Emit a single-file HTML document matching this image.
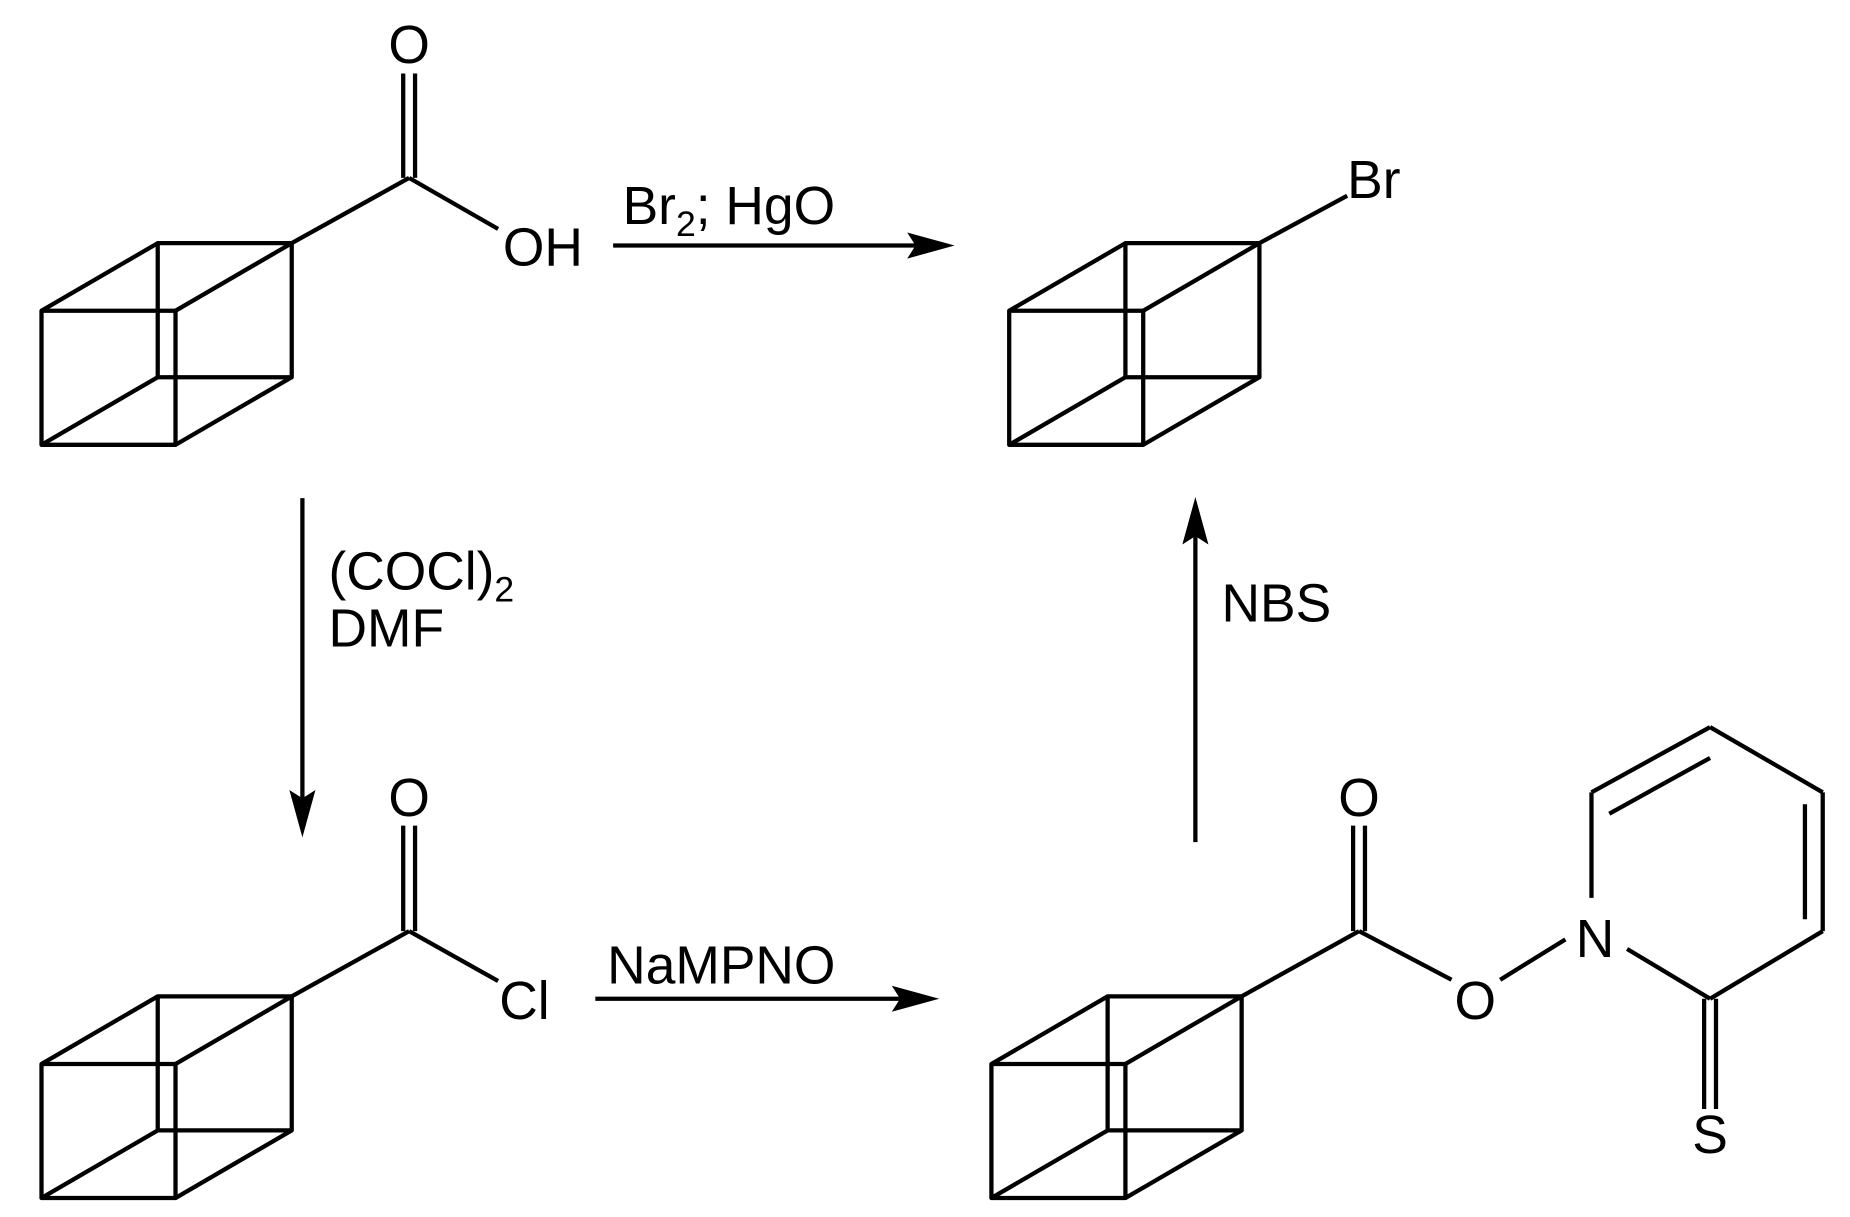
<!DOCTYPE html>
<html><head><meta charset="utf-8"><style>html,body{margin:0;padding:0;background:#fff}svg{display:block}</style></head>
<body>
<svg width="1850" height="1217" viewBox="0 0 1560 1026" preserveAspectRatio="none" xmlns="http://www.w3.org/2000/svg">
<defs>
<g id="cube" fill="none" stroke="#000" stroke-width="3.6" stroke-linejoin="round">
<rect x="0" y="57" width="113" height="113"/>
<rect x="98" y="0" width="113" height="113"/>
<line x1="0" y1="57" x2="98" y2="0"/>
<line x1="113" y1="57" x2="211" y2="0"/>
<line x1="0" y1="170" x2="98" y2="113"/>
<line x1="113" y1="170" x2="211" y2="113"/>
</g>
</defs>
<g font-family="Liberation Sans, sans-serif" font-size="45" fill="#000">
<use href="#cube" x="35" y="205"/>
<use href="#cube" x="851" y="205"/>
<use href="#cube" x="35" y="840"/>
<use href="#cube" x="836" y="840"/>
<g stroke="#000" stroke-width="3.6" fill="none">
<line x1="246" y1="205" x2="345" y2="150"/>
<line x1="340" y1="62" x2="340" y2="150"/><line x1="350" y1="62" x2="350" y2="150"/>
<line x1="345" y1="150" x2="420" y2="193"/>
<line x1="1062" y1="205" x2="1136" y2="165"/>
<line x1="246" y1="840" x2="345" y2="785"/>
<line x1="340" y1="696" x2="340" y2="785"/><line x1="350" y1="696" x2="350" y2="785"/>
<line x1="345" y1="785" x2="420" y2="827"/>
<line x1="1047" y1="840" x2="1146" y2="785"/>
<line x1="1141" y1="696" x2="1141" y2="785"/><line x1="1151" y1="696" x2="1151" y2="785"/>
<line x1="1146" y1="785" x2="1224" y2="826"/>
<line x1="1265" y1="826" x2="1320" y2="792"/>
<line x1="1342" y1="757" x2="1342" y2="668"/>
<line x1="1342" y1="668" x2="1442" y2="613"/>
<line x1="1357" y1="686" x2="1442" y2="639"/>
<line x1="1442" y1="613" x2="1537" y2="668"/>
<line x1="1537" y1="668" x2="1537" y2="785"/>
<line x1="1522" y1="678" x2="1522" y2="775"/>
<line x1="1537" y1="785" x2="1442" y2="842"/>
<line x1="1442" y1="842" x2="1372" y2="800"/>
<line x1="1437" y1="842" x2="1437" y2="935"/><line x1="1447" y1="842" x2="1447" y2="935"/>
<line x1="517" y1="207" x2="780" y2="207"/>
<line x1="255" y1="420" x2="255" y2="680"/>
<line x1="502" y1="842" x2="767" y2="842"/>
<line x1="1008" y1="710" x2="1008" y2="445"/>
</g>
<polygon points="805,207 765,196 772,207 765,218"/>
<polygon points="255,706 244,666 255,673 266,666"/>
<polygon points="792,842 752,831 759,842 752,853"/>
<polygon points="1008,419 997,459 1008,452 1019,459"/>
<text x="345" y="53" text-anchor="middle">O</text>
<text x="424" y="224">OH</text>
<text x="1136" y="167">Br</text>
<text x="525" y="189">Br<tspan font-size="30" dy="10">2</tspan><tspan dy="-10">; HgO</tspan></text>
<text x="277" y="497">(COCl)<tspan font-size="30" dy="10">2</tspan></text>
<text x="277" y="545">DMF</text>
<text x="345" y="688" text-anchor="middle">O</text>
<text x="421" y="859">Cl</text>
<text x="512" y="829">NaMPNO</text>
<text x="1030" y="524">NBS</text>
<text x="1146" y="688" text-anchor="middle">O</text>
<text x="1244" y="859" text-anchor="middle">O</text>
<text x="1345" y="807" text-anchor="middle">N</text>
<text x="1442" y="972" text-anchor="middle">S</text>
</g>
</svg>
</body></html>
